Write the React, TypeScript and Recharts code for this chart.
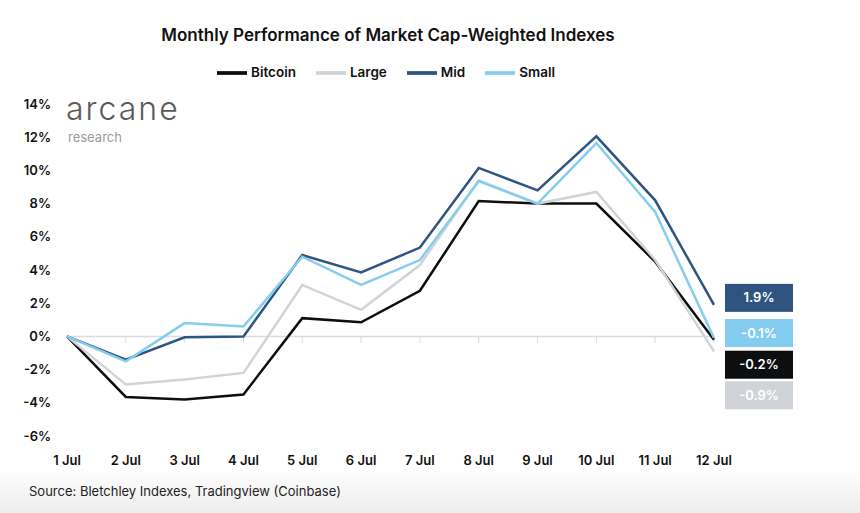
import React from "react";
import {
  LineChart,
  Line,
  XAxis,
  YAxis,
  Legend,
  ReferenceLine,
} from "recharts";

const days = ["1 Jul", "2 Jul", "3 Jul", "4 Jul", "5 Jul", "6 Jul", "7 Jul", "8 Jul", "9 Jul", "10 Jul", "11 Jul", "12 Jul"];
const bitcoin = [0, -3.65, -3.8, -3.5, 1.1, 0.85, 2.75, 8.15, 8.0, 8.0, 4.5, -0.2];
const large = [0, -2.9, -2.6, -2.2, 3.1, 1.6, 4.3, 9.4, 8.0, 8.7, 4.6, -0.9];
const mid = [0, -1.4, -0.05, 0, 4.9, 3.85, 5.35, 10.15, 8.8, 12.05, 8.2, 1.9];
const small = [0, -1.5, 0.8, 0.6, 4.8, 3.1, 4.6, 9.35, 8.0, 11.65, 7.5, -0.1];
const yTicks = [-6, -4, -2, 0, 2, 4, 6, 8, 10, 12, 14];

const data = days.map((d, i) => ({
  day: d,
  Bitcoin: bitcoin[i],
  Large: large[i],
  Mid: mid[i],
  Small: small[i],
}));

const FONT = "Inter, 'Open Sans', sans-serif";

// box with the last value, shifted up/down so the four don't overlap
function endLabel(fill: string, dy: number) {
  return (props: any) => {
    const { x, y, index, value } = props;
    if (index !== days.length - 1) return null;
    const cy = y + dy;
    return (
      <g>
        <rect x={x + 11} y={cy - 14} width={68} height={28} fill={fill} />
        <text
          x={x + 45}
          y={cy}
          dy="0.35em"
          textAnchor="middle"
          fill="#fff"
          fontSize={13}
          fontWeight={600}
          fontFamily={FONT}
        >
          {`${value.toFixed(1)}%`}
        </text>
      </g>
    );
  };
}

export default function App() {
  return (
    <div
      style={{
        position: "absolute",
        left: 0,
        top: 0,
        width: 860,
        height: 513,
        fontFamily: FONT,
        background: "linear-gradient(to bottom, #fff 0px, #fff 468px, #ededed 513px)",
      }}
    >
      <div
        style={{
          position: "absolute",
          top: 25,
          left: 0,
          width: 776,
          textAlign: "center",
          fontSize: 17,
          fontWeight: 600,
          color: "#111",
        }}
      >
        Monthly Performance of Market Cap-Weighted Indexes
      </div>
      <div
        style={{
          position: "absolute",
          left: 66,
          top: 94,
          height: 30,
          lineHeight: "30px",
          color: "#5a5a5a",
          fontSize: 32,
          fontWeight: 300,
          letterSpacing: 2,
        }}
      >
        arcane
      </div>
      <div
        style={{
          position: "absolute",
          left: 68,
          top: 131,
          lineHeight: 1,
          color: "#9a9a9a",
          fontSize: 13,
          fontWeight: 400,
        }}
      >
        research
      </div>
      <LineChart
        width={860}
        height={513}
        data={data}
        margin={{ top: 74, right: 146, left: 0, bottom: 47 }}
        style={{ position: "absolute", left: 0, top: 0 }}
      >
        <Legend
          verticalAlign="top"
          iconType="plainline"
          iconSize={30}
          wrapperStyle={{ top: 58, left: 6, width: 780, fontSize: 13.5, fontWeight: 600 }}
          formatter={(v: string) => <span style={{ color: "#111", marginRight: 10 }}>{v}</span>}
        />
        <XAxis
          dataKey="day"
          axisLine={false}
          tickLine={false}
          tickSize={0}
          tickMargin={20}
          height={30}
          interval={0}
          tick={{ fill: "#111", fontSize: 13, fontWeight: 600, fontFamily: FONT }}
        />
        <YAxis
          domain={[-6, 14]}
          ticks={yTicks}
          axisLine={false}
          tickLine={false}
          tickSize={0}
          tickMargin={16}
          width={67}
          tickFormatter={(v: number) => `${v}%`}
          tick={{ fill: "#111", fontSize: 13, fontWeight: 600, fontFamily: FONT }}
        />
        <ReferenceLine y={0} stroke="#dcdcdc" strokeWidth={1.5} />
        {days.slice(1).map((d) => (
          <ReferenceLine
            key={d}
            segment={[{ x: d, y: 0 }, { x: d, y: -0.4 }]}
            stroke="#dcdcdc"
            strokeWidth={1}
          />
        ))}
        <Line dataKey="Bitcoin" stroke="#0d0e10" strokeWidth={2.5} dot={false} isAnimationActive={false} label={endLabel("#0d0e10", 25)} />
        <Line dataKey="Large" stroke="#d0d4d8" strokeWidth={2.5} dot={false} isAnimationActive={false} label={endLabel("#d0d4d8", 44)} />
        <Line dataKey="Mid" stroke="#2e5480" strokeWidth={2.5} dot={false} isAnimationActive={false} label={endLabel("#2f5480", -7)} />
        <Line dataKey="Small" stroke="#84cdee" strokeWidth={2.5} dot={false} isAnimationActive={false} label={endLabel("#84cdf0", -5)} />
      </LineChart>
      <div style={{ position: "absolute", left: 29, top: 483, fontSize: 13, color: "#222" }}>
        Source: Bletchley Indexes, Tradingview (Coinbase)
      </div>
    </div>
  );
}
